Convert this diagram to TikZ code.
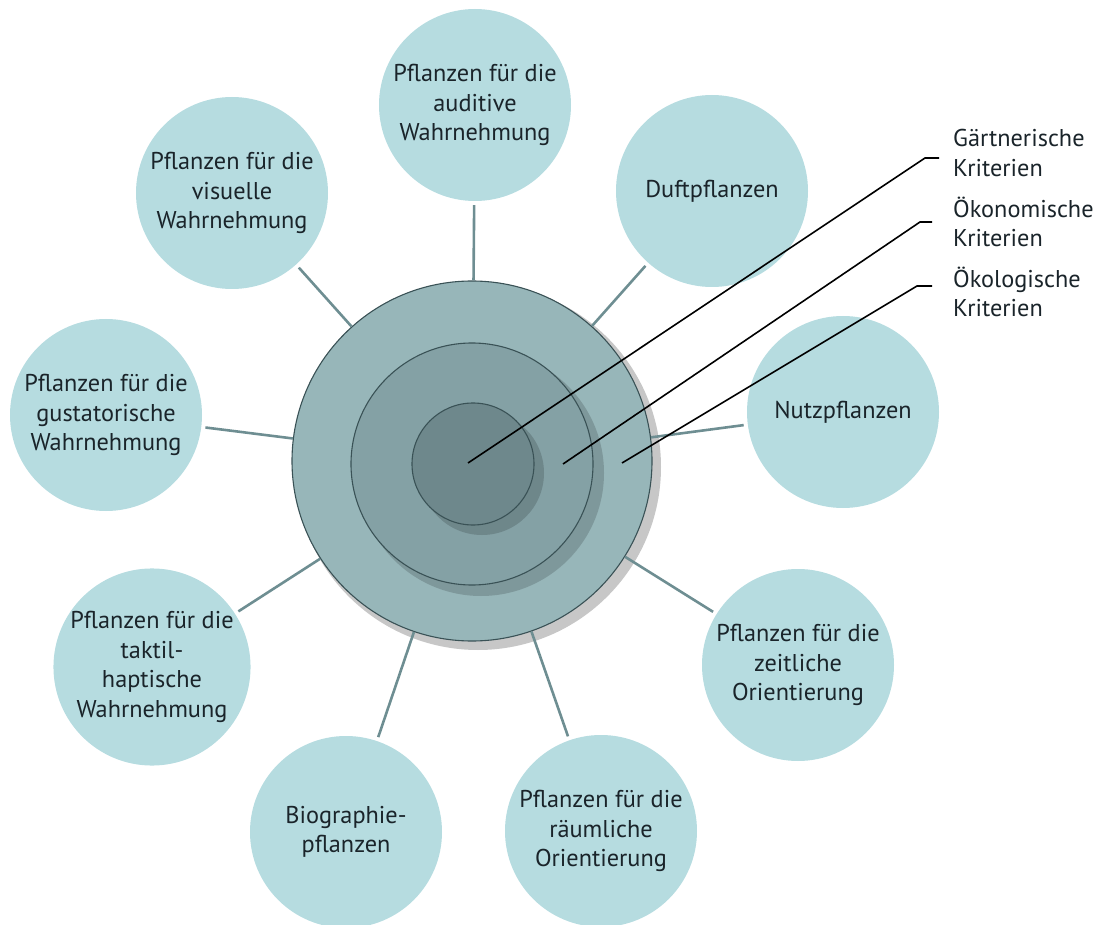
\documentclass[tikz,border=0pt]{standalone}
\usepackage{fontspec}
\setmainfont{PT Sans}
\definecolor{satfill}{RGB}{182,220,224}
\definecolor{ringout}{RGB}{151,182,185}
\definecolor{ringmid}{RGB}{132,161,165}
\definecolor{ringin}{RGB}{110,136,140}
\definecolor{ringline}{RGB}{58,82,86}
\definecolor{spokecol}{RGB}{110,142,146}
\definecolor{txt}{RGB}{26,36,42}
\tikzset{
	sat/.style={circle, fill=satfill, minimum size=192pt, inner sep=0pt, align=center, text=txt, font=\fontsize{24.3}{29.5}\selectfont},
	ring/.style={circle, draw=ringline, line width=1.1pt, inner sep=0pt},
	spoke/.style={draw=spokecol, line width=2.6pt, shorten >=4pt},
	crit/.style={draw=black, line width=1.6pt},
	critlabel/.style={anchor=west, align=left, inner sep=0pt, text=txt, font=\fontsize{24.3}{29.5}\selectfont}
}

\begin{document}
\begin{tikzpicture}[x=1pt, y=-1pt]
			%%%%% START %%%%%
			\useasboundingbox (0, 0) rectangle (1112, 925);
			
			% shadow and rings
			\fill[black!22] (478, 467) circle (183pt);
			\node[ring, fill=ringout, minimum size=360pt] (core) at (472, 461) {};
			\fill[black, opacity=0.16] (481, 473) circle (123pt);
			\node[ring, fill=ringmid, minimum size=242pt] (mid) at (472, 464) {};
			\fill[black, opacity=0.16] (482, 473) circle (62pt);
			\node[ring, fill=ringin, minimum size=122pt] (inner) at (473, 464) {};
			
			% satellites
			\node[sat] (auditiv) at (475, 105) {Pflanzen für die\\auditive\\Wahrnehmung};
			\node[sat] (duft) at (712, 191) {Duftpflanzen};
			\node[sat] (visuell) at (232, 193) {Pflanzen für die\\visuelle\\Wahrnehmung};
			\node[sat] (gustat) at (106, 415) {Pflanzen für die\\gustatorische\\Wahrnehmung};
			\node[sat] (nutz) at (843, 412) {Nutzpflanzen};
			\node[sat] (taktil) at (152, 667) {Pflanzen für die\\taktil-\\haptische\\Wahrnehmung};
			\node[sat] (biogr) at (346, 832) {Biographie-\\pflanzen};
			\node[sat] (raeuml) at (601, 831) {Pflanzen für die\\räumliche\\Orientierung};
			\node[sat] (zeitl) at (798, 665) {Pflanzen für die\\zeitliche\\Orientierung};
			
			\foreach \s in {auditiv, duft, visuell, gustat, nutz, taktil, biogr, raeuml, zeitl}
				\draw[spoke] (core) -- (\s);
			
			% criteria
			\node[critlabel] (gaert) at (953, 153) {Gärtnerische\\Kriterien};
			\node[critlabel] (oekon) at (953, 222) {Ökonomische\\Kriterien};
			\node[critlabel] (oekol) at (953, 292) {Ökologische\\Kriterien};
			
			\coordinate (gpt) at (468, 463);
			\coordinate (gk) at (925, 158);
			\coordinate (npt) at (563, 464);
			\coordinate (nk) at (920, 222);
			\coordinate (lpt) at (622, 463);
			\coordinate (lk) at (917, 286);
			
			\draw[crit, shorten >=14pt] (gpt) -- (gk) -- (gk -| gaert.west);
			\draw[crit, shorten >=21pt] (npt) -- (nk) -- (nk -| oekon.west);
			\draw[crit, shorten >=21pt] (lpt) -- (lk) -- (lk -| oekol.west);
			%%%%% END %%%%%
\end{tikzpicture}
\end{document}
